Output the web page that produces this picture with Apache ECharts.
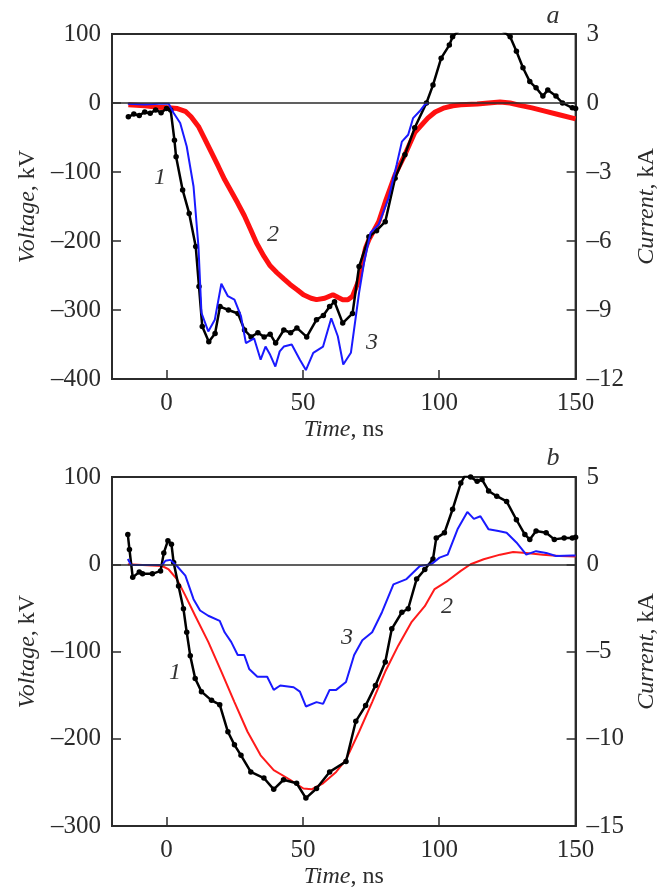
<!DOCTYPE html>
<html>
<head>
<meta charset="utf-8">
<script src="https://cdn.jsdelivr.net/npm/echarts@6/dist/echarts.min.js"></script>
<style>
  html, body { margin: 0; padding: 0; background: #fff; }
  #chart { width: 667px; height: 890px; }
</style>
</head>
<body>
<div id="chart"></div>
<script>
// panel a, curve 1 (black dots)
const a1Time = [-14, -12, -10, -8, -6, -4, -2, 0, 1.5, 2.9, 3.5, 5.9, 8.3, 10.7, 11.9, 13.1, 15.5, 17.8, 19.6, 22.7, 26.2, 28.6, 31, 33.5, 35.8, 38, 40, 43, 45.5, 47.8, 51.4, 55, 57.5, 59.8, 61.6, 64.6, 68.2, 70.6, 74.2, 77, 80.2, 83.8, 87.4, 91, 95.3, 97.7, 100.7, 103.7, 104.9, 108, 113, 118, 123, 126, 128.3, 130.7, 133.2, 135.5, 138, 139.8, 142.8, 145.2, 148.8, 150];
const a1Volt = [-20, -16, -18, -13, -15, -10, -14, -8, -10, -54, -78, -126, -160, -208, -266, -324, -346, -334, -295, -300, -305, -329, -339, -333, -339, -335, -348, -329, -333, -326, -339, -314, -308, -295, -288, -319, -305, -237, -194, -185, -172, -109, -75, -36, 0, 26, 65, 84, 96, 108, 115, 112, 105, 96, 75, 51, 31, 22, 10, 19, 10, 0, -7, -8];

// panel a, curve 2 (red)
const a2Time = [-14, -8, -3, 0.8, 4, 6.9, 9, 11.7, 14, 16.5, 19, 21.3, 24, 26.1, 28.5, 30.9, 33, 35.7, 38, 40.5, 43, 45.3, 48, 50.2, 53, 55, 58, 61, 63, 64.6, 66.5, 68.2, 70.6, 72, 73, 74.2, 77.8, 80.5, 83.8, 87.4, 91, 95.8, 98.5, 101.9, 105, 107.9, 113.9, 118, 122.3, 126, 129.6, 134, 138, 144, 150];
const a2Volt = [-2.5, -4, -6, -7, -8, -12, -20, -34, -52, -72, -92, -111, -130, -145, -163, -184, -203, -222, -236, -246, -255, -263, -271, -278, -283, -285, -283, -278, -282, -285, -285, -280, -256, -228, -210, -198, -172, -140, -104, -75, -43, -22, -13, -7, -4, -2.5, -1.5, 0, 1.5, 0, -3.5, -7, -11, -17, -23];

// panel a, curve 3 (blue)
const a3Time = [-14.2, -8, -3, 0.8, 2.6, 5, 7.4, 9.9, 11.7, 12.8, 15.3, 17.7, 20.1, 22.5, 24.9, 27.3, 29.1, 32.1, 34.5, 36.3, 38, 39.9, 41.5, 43, 45.9, 48.9, 51.1, 53.8, 57.4, 60.4, 62.8, 64.8, 67.6, 70.6, 72.4, 74.8, 77.8, 81.4, 84.4, 86.3, 88.6, 90.4, 92.8, 94.7, 96];
const a3Volt = [-1, -2, -1, -1, -14.5, -29, -63, -121, -208, -304, -331, -314, -262, -280, -285, -309, -348, -341, -372, -353, -365, -382, -360, -353, -350, -372, -387, -362, -353, -312, -338, -379, -362, -275, -232, -188, -176, -138, -89, -56, -46, -22, -12, -2.5, 0];

// panel b, curve 1 (black dots)
const b1Time = [-14.2, -13.6, -12.4, -10, -8.8, -5.2, -2.2, -1, 0.5, 1.8, 2.6, 4.4, 6.2, 7.4, 8.7, 10.5, 12.8, 16.5, 19.5, 22.5, 24.9, 27.3, 30.9, 35.7, 39.3, 42.9, 47.7, 51.1, 55, 59.8, 65.8, 69.4, 73, 76.6, 80.2, 82.6, 86.3, 88.6, 91.7, 94.7, 97.7, 98.9, 101.9, 104.9, 107.9, 109.5, 111.5, 113.9, 115.7, 118.1, 121.1, 124.7, 128.3, 131.4, 133.2, 135.5, 139.2, 142.2, 145.8, 148.8, 150];
const b1Volt = [34, 17, -15, -9, -11, -11, -7.6, 13, 27, 23, 2, -25, -51, -78, -105, -131, -146, -156, -161, -192, -207, -219, -238, -245, -258, -247, -251, -268, -257, -238, -226, -180, -162, -139, -112, -74, -55, -51, -17, -6, 6, 30, 36, 63, 93, 102, 100, 95, 97, 84, 78, 72, 51, 34, 28.5, 38, 36, 28.5, 30, 30, 31];

// panel b, curve 2 (red)
const b2Time = [-14.2, -1.6, 0.8, 3.8, 6.9, 10.5, 15.3, 20.1, 24.9, 29.7, 34.5, 39.3, 45.3, 50.2, 53.2, 57.4, 62.2, 65.8, 70.6, 75.4, 80.2, 85, 89.9, 94.7, 98.3, 103.1, 107.9, 111.5, 116.3, 122.3, 127.1, 131.9, 138, 144, 150];
const b2Volt = [0, -2, -6, -17, -36, -59, -89, -123, -158, -192, -219, -236, -247, -257, -258, -251, -238, -224, -192, -158, -123, -93, -66, -48, -28.5, -19, -7.6, 0, 5.7, 11, 14, 13, 11, 9.5, 9];

// panel b, curve 3 (blue)
const b3Time = [-14.2, -13, -1.6, -0.4, 1.4, 3.8, 6.9, 9.9, 12.3, 15.3, 19.5, 21.3, 23.7, 26.1, 28.5, 30.3, 33.3, 36.9, 39.3, 41.7, 46.6, 48.9, 51.1, 55, 57.4, 59.8, 62.2, 65.8, 68.8, 71.8, 75.4, 79, 83.2, 88, 92.9, 97.1, 100.1, 103.1, 106.7, 110.3, 112.7, 115.1, 118.1, 121.7, 124.7, 128.3, 131.9, 135.5, 139.2, 142.8, 148.8, 150];
const b3Volt = [6, -1, -1, 4, 5, -2, -13, -40, -53, -59, -65, -78, -89, -104, -104, -120, -129, -129, -144, -139, -141, -146, -163, -158, -160, -144, -144, -135, -104, -87, -78, -55, -23, -17, -2, 0, 7.6, 11, 40, 60, 52, 55, 40, 38, 36, 25, 11, 15, 13, 9.5, 10, 10];

const timeTicks = [0, 50, 100, 150];

const FONT = '"Liberation Serif", "DejaVu Serif", serif';
const INK = '#2b2b2b';

function zip(t, v) {
  return t.map((x, i) => [x, v[i]]);
}
function dash(v) {
  return v < 0 ? '\u2013' + Math.abs(v) : String(v);
}

function xAxisFor(gridIndex) {
  return {
    type: 'value', gridIndex: gridIndex, min: -20, max: 150,
    name: '{i|Time}, ns', nameLocation: 'middle', nameGap: 39,
    nameTextStyle: { fontFamily: FONT, fontSize: 24, color: INK,
      rich: { i: { fontFamily: FONT, fontSize: 24, fontStyle: 'italic', color: INK } } },
    axisLine: { onZero: false, lineStyle: { color: INK, width: 2 } },
    axisTick: { inside: true, length: 9, customValues: timeTicks, lineStyle: { color: INK, width: 1.5 } },
    axisLabel: { customValues: timeTicks, margin: 12, fontFamily: FONT, fontSize: 25, color: INK },
    splitLine: { show: false }
  };
}

function yAxisFor(gridIndex, pos, min, max, step, label) {
  return {
    type: 'value', gridIndex: gridIndex, position: pos, min: min, max: max, interval: step,
    name: label, nameLocation: 'middle', nameRotate: 90,
    nameGap: pos === 'left' ? 70 : 52,
    nameTextStyle: { fontFamily: FONT, fontSize: 24, color: INK,
      rich: { i: { fontFamily: FONT, fontSize: 24, fontStyle: 'italic', color: INK } } },
    axisLine: { show: true, onZero: false, lineStyle: { color: INK, width: 2 } },
    axisTick: { inside: true, length: 9, lineStyle: { color: INK, width: 1.5 } },
    axisLabel: { margin: 11, fontFamily: FONT, fontSize: 25, color: INK, formatter: dash },
    splitLine: { show: false }
  };
}

const zeroLine = {
  silent: true, symbol: 'none', label: { show: false },
  lineStyle: { color: INK, width: 1.5, type: 'solid' },
  data: [{ yAxis: 0 }]
};

function dotted(data, xi, yi) {
  return {
    type: 'line', xAxisIndex: xi, yAxisIndex: yi, data: data,
    symbol: 'circle', symbolSize: 5.5, showAllSymbol: true,
    itemStyle: { color: '#000' },
    lineStyle: { color: '#000', width: 2.5 }, z: 3
  };
}
function plain(data, xi, yi, color, width, z) {
  return {
    type: 'line', xAxisIndex: xi, yAxisIndex: yi, data: data,
    symbol: 'none', lineStyle: { color: color, width: width }, z: z
  };
}

const red = Object.assign(plain(zip(a2Time, a2Volt), 0, 0, '#ff1010', 5, 2), { markLine: zeroLine });
const redB = Object.assign(plain(zip(b2Time, b2Volt), 1, 2, '#ff1a1a', 2, 2), { markLine: zeroLine });

function tag(text, x, y, size) {
  return {
    type: 'text', x: x, y: y, silent: true,
    style: { text: text, fill: '#333', font: 'italic ' + (size || 24) + 'px "Liberation Serif"',
      align: 'center', verticalAlign: 'middle' }
  };
}

const chart = echarts.init(document.getElementById('chart'));
chart.setOption({
  backgroundColor: '#fff',
  animation: false,
  grid: [
    { left: 112, width: 472, top: 34, height: 345, show: true, borderColor: INK, borderWidth: 2 },
    { left: 112, width: 472, top: 477, height: 351, show: true, borderColor: INK, borderWidth: 2 }
  ],
  xAxis: [xAxisFor(0), xAxisFor(1)],
  yAxis: [
    yAxisFor(0, 'left', -400, 100, 100, '{i|Voltage}, kV'),
    yAxisFor(0, 'right', -12, 3, 3, '{i|Current}, kA'),
    yAxisFor(1, 'left', -300, 100, 100, '{i|Voltage}, kV'),
    yAxisFor(1, 'right', -15, 5, 5, '{i|Current}, kA')
  ],
  series: [
    red,
    dotted(zip(a1Time, a1Volt), 0, 0),
    plain(zip(a3Time, a3Volt), 0, 0, '#1a1aff', 2, 4),
    redB,
    dotted(zip(b1Time, b1Volt), 1, 2),
    plain(zip(b3Time, b3Volt), 1, 2, '#1a1aff', 2, 4)
  ],
  graphic: [
    tag('a', 553, 16, 26),
    tag('1', 160, 178),
    tag('2', 273, 235),
    tag('3', 372, 343),
    tag('b', 553, 458, 26),
    tag('1', 175, 673),
    tag('3', 347, 638),
    tag('2', 447, 607)
  ]
});
</script>
</body>
</html>
